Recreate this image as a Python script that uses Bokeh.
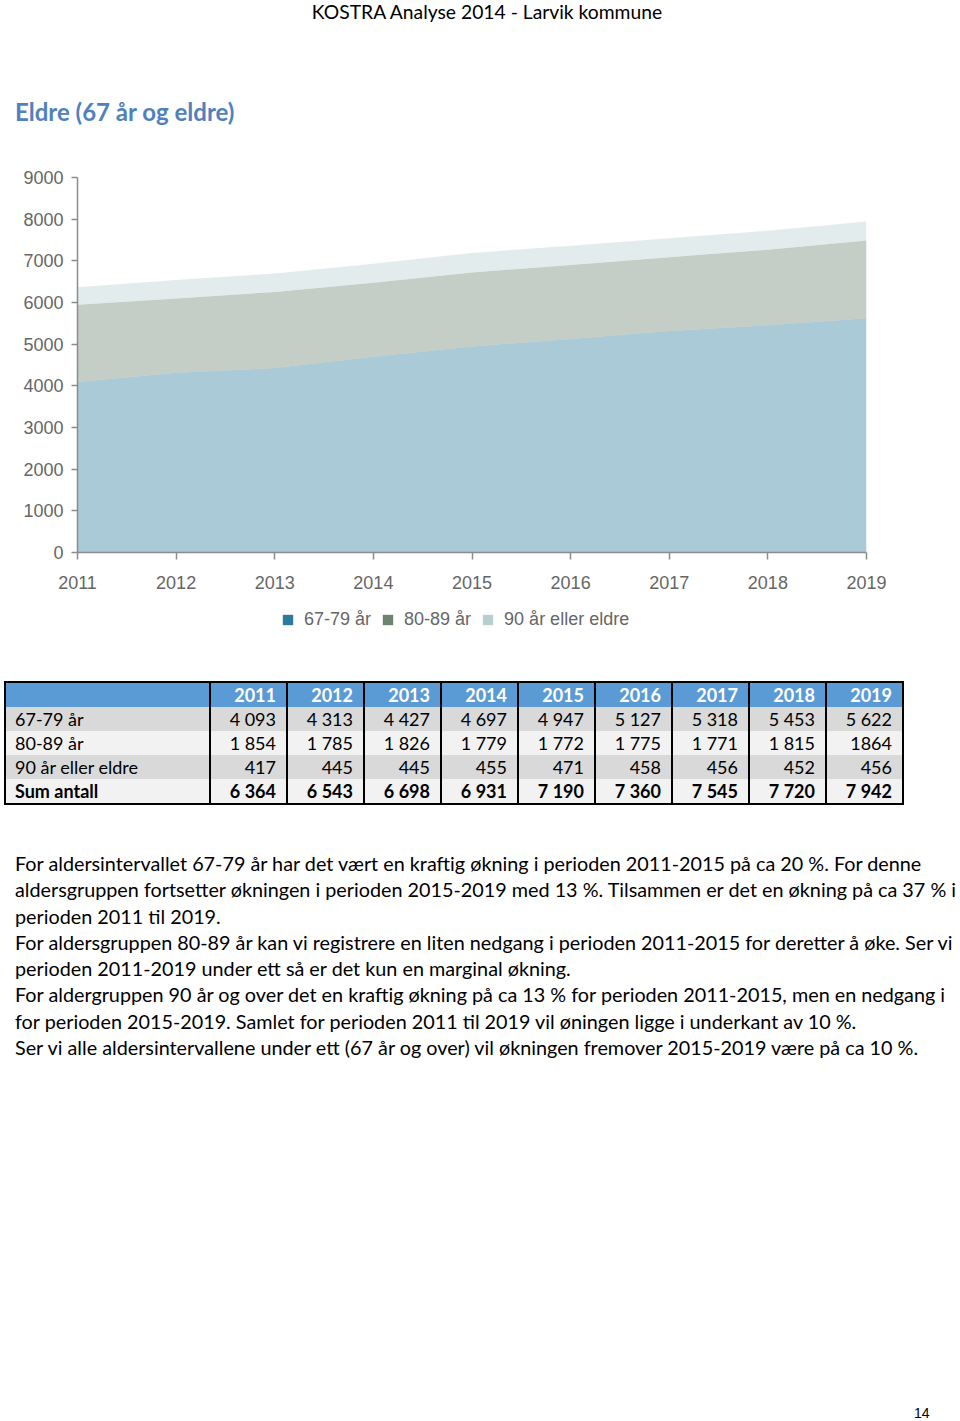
from bokeh.plotting import figure
from bokeh.models import (Range1d, FixedTicker, Legend, LegendItem, Div,
                          ColumnDataSource)
from bokeh.layouts import column
from bokeh.embed import file_html
from bokeh.resources import INLINE

# ---------------- data ----------------
years = [2011, 2012, 2013, 2014, 2015, 2016, 2017, 2018, 2019]
age_67_79 = [4093, 4313, 4427, 4697, 4947, 5127, 5318, 5453, 5622]
age_80_89 = [1854, 1785, 1826, 1779, 1772, 1775, 1771, 1815, 1864]
age_90_plus = [417, 445, 445, 455, 471, 458, 456, 452, 456]
series_names = ["67-79 år", "80-89 år", "90 år eller eldre"]
y_ticks = [0, 1000, 2000, 3000, 4000, 5000, 6000, 7000, 8000, 9000]
sum_label = "Sum antall"
# cells printed without thousands separator in the source table
plain_cells = {("80-89 år", 2019)}

header_text = "KOSTRA Analyse 2014 - Larvik kommune"
title_text = "Eldre (67 år og eldre)"
paragraph_lines = [
    "For aldersintervallet 67-79 år har det vært en kraftig økning i perioden 2011-2015 på ca 20 %. For denne",
    "aldersgruppen fortsetter økningen i perioden 2015-2019 med 13 %. Tilsammen er det en økning på ca 37 % i",
    "perioden 2011 til 2019.",
    "For aldersgruppen 80-89 år kan vi registrere en liten nedgang i perioden 2011-2015 for deretter å øke. Ser vi",
    "perioden 2011-2019 under ett så er det kun en marginal økning.",
    "For aldergruppen 90 år og over det en kraftig økning på ca 13 % for perioden 2011-2015, men en nedgang i",
    "for perioden 2015-2019. Samlet for perioden 2011 til 2019 vil øningen ligge i underkant av 10 %.",
    "Ser vi alle aldersintervallene under ett (67 år og over) vil økningen fremover 2015-2019 være på ca 10 %.",
]
page_number = "14"

# ---------------- styles ----------------
legend_colors = ["#2e7a9c", "#6e8470", "#b8cfd0"]
AREA_ALPHA = 0.4
TICK_COLOR = "#666666"
AXIS_COLOR = "#8c8c8c"
BODY_FONT = "Lato"
CHART_FONT = "Liberation Sans"
PAGE_W = 960

# ---------------- chart ----------------
src = ColumnDataSource(dict(year=years, a=age_67_79, b=age_80_89, c=age_90_plus))

p = figure(width=PAGE_W, height=450, x_range=Range1d(years[0], years[-1]),
           y_range=Range1d(y_ticks[0], y_ticks[-1]),
           output_backend="svg", toolbar_location=None,
           min_border_left=77, min_border_right=94,
           min_border_top=27, min_border_bottom=48)

p.varea_stack(stackers=["a", "b", "c"], x="year", color=legend_colors,
              fill_alpha=AREA_ALPHA, source=src)

p.xgrid.grid_line_color = None
p.ygrid.grid_line_color = None
p.outline_line_color = None

p.xaxis.ticker = FixedTicker(ticks=years)
p.yaxis.ticker = FixedTicker(ticks=y_ticks)
for ax in (p.xaxis[0], p.yaxis[0]):
    ax.axis_line_color = AXIS_COLOR
    ax.axis_line_width = 1.5
    ax.major_tick_line_color = AXIS_COLOR
    ax.major_tick_line_width = 1.5
    ax.major_tick_in = 0
    ax.minor_tick_line_color = None
    ax.major_label_text_font = CHART_FONT
    ax.major_label_text_font_size = "18px"
    ax.major_label_text_color = TICK_COLOR
p.xaxis.major_tick_out = 7
p.xaxis.major_label_standoff = 16
p.yaxis.major_tick_out = 6
p.yaxis.major_label_standoff = 8

# ---------------- legend strip (own small figure, below the chart) ----------------
# the same stacked series is drawn here in full colour, outside this strip's
# visible range, so that the legend swatches show the solid series colours
pl = figure(width=PAGE_W, height=60, x_range=Range1d(0, 1), y_range=Range1d(0, 1),
            x_axis_type=None, y_axis_type=None, min_border=0,
            output_backend="svg", toolbar_location=None)
pl.grid.grid_line_color = None
pl.outline_line_color = None

legend_renderers = pl.varea_stack(stackers=["a", "b", "c"], x="year",
                                  color=legend_colors, source=src)
items = [LegendItem(label=name, renderers=[r])
         for name, r in zip(series_names, legend_renderers)]

legend = Legend(items=items, orientation="horizontal", location=(204, 30),
                glyph_width=13, glyph_height=13, label_standoff=10, spacing=10,
                padding=0, margin=0, border_line_color=None,
                background_fill_alpha=0,
                label_text_font=CHART_FONT, label_text_font_size="18px",
                label_text_color=TICK_COLOR)
pl.add_layout(legend)

# ---------------- header / title ----------------
top_html = f"""
<div style="position:relative;width:{PAGE_W}px;height:150px;font-family:{BODY_FONT};">
  <div style="position:absolute;left:7px;top:0px;width:{PAGE_W}px;text-align:center;
       font-size:19.3px;line-height:24px;color:#000;white-space:nowrap;">{header_text}</div>
  <div style="position:absolute;left:15px;top:99px;font-size:24px;line-height:26px;
       font-weight:bold;color:#4f81bd;white-space:nowrap;">{title_text}</div>
</div>"""
top_div = Div(text=top_html, width=PAGE_W, height=150, margin=0)


# ---------------- table + text ----------------
def fmt(v, plain=False):
    s = f"{v:,}"
    return s.replace(",", "") if plain else s.replace(",", " ")


sums = [a + b + c for a, b, c in zip(age_67_79, age_80_89, age_90_plus)]
rows = [(series_names[0], age_67_79), (series_names[1], age_80_89),
        (series_names[2], age_90_plus), (sum_label, sums)]
row_bgs = ["#d9d9d9", "#f2f2f2", "#d9d9d9", "#f2f2f2"]

cell = ("height:24px;line-height:24px;padding:0 10px 0 9px;"
        "border-left:2px solid #000;border-right:2px solid #000;")
html_rows = ['<tr style="background:#5b9bd5;color:#fff;font-weight:bold;">'
             f'<td style="{cell}"></td>' +
             "".join(f'<td style="{cell}text-align:right;">{y}</td>' for y in years) + "</tr>"]
for (label, vals), bg in zip(rows, row_bgs):
    bold = "font-weight:bold;" if label == sum_label else ""
    tds = f'<td style="{cell}text-align:left;">{label}</td>'
    for y, v in zip(years, vals):
        tds += f'<td style="{cell}text-align:right;">{fmt(v, (label, y) in plain_cells)}</td>'
    html_rows.append(f'<tr style="background:{bg};{bold}">{tds}</tr>')

colgroup = '<colgroup><col style="width:205px">' + '<col style="width:77px">' * len(years) + '</colgroup>'
table_html = (f'<table style="position:absolute;left:4px;top:21px;width:898px;'
              f'border-collapse:collapse;table-layout:fixed;border:2px solid #000;'
              f'font-family:{BODY_FONT};font-size:18px;color:#000;">'
              + colgroup + "".join(html_rows) + "</table>")

para_html = (f'<div style="position:absolute;left:15px;top:190px;font-family:{BODY_FONT};'
             f'font-size:19.8px;line-height:26.3px;color:#000;white-space:nowrap;">'
             + "<br>".join(paragraph_lines) + "</div>")

num_html = (f'<div style="position:absolute;left:914px;top:745px;font-family:{CHART_FONT};'
            f'font-size:14px;line-height:16px;color:#000;">{page_number}</div>')

bottom_div = Div(text=f'<div style="position:relative;width:{PAGE_W}px;height:761px;">'
                      f'{table_html}{para_html}{num_html}</div>',
                 width=PAGE_W, height=761, margin=0)

layout = column(top_div, p, pl, bottom_div, spacing=0)
open("out.html", "w").write(file_html(layout, INLINE))
